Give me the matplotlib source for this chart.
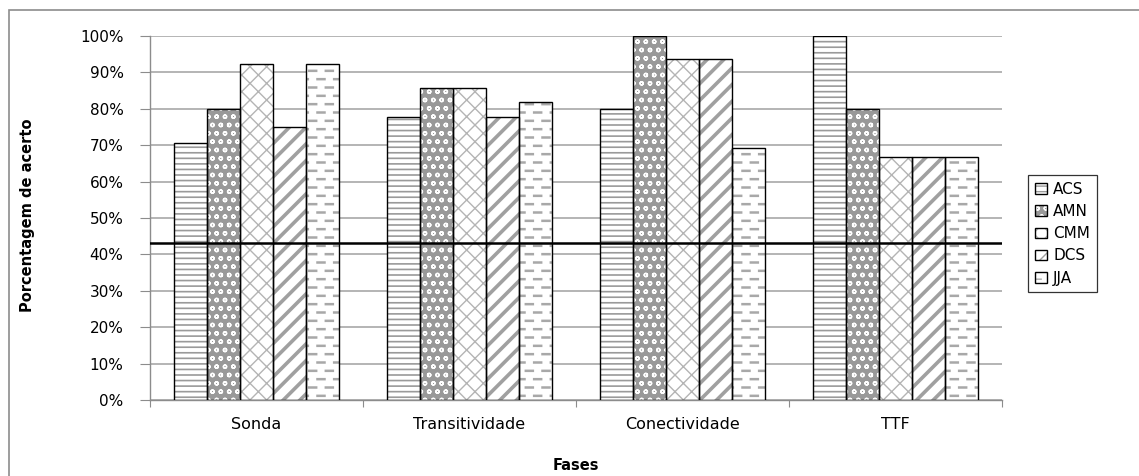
import numpy as np
import matplotlib
matplotlib.use("Agg")
import matplotlib.pyplot as plt
import matplotlib.hatch as mhatch
from matplotlib.path import Path
from matplotlib.patches import Rectangle

fases = ["Sonda", "Transitividade", "Conectividade", "TTF"]
pessoas = ["ACS", "AMN", "CMM", "DCS", "JJA"]
acs = [70.6, 77.8, 80.0, 100.0]
amn = [80.0, 85.7, 100.0, 80.0]
cmm = [92.3, 85.7, 93.8, 66.7]
dcs = [75.0, 77.8, 93.8, 66.7]
jja = [92.3, 81.8, 69.2, 66.7]
limiar = 43.0


# the '*' hatch is replaced by rows of short horizontal dashes (staggered)
class DashHatch(mhatch.HatchPatternBase):
    def __init__(self, hatch, density):
        self.cols = int(hatch.count('*') * density)
        self.rows = self.cols * 2
        self.num_vertices = self.rows * self.cols * 2

    def set_vertices_and_codes(self, vertices, codes):
        k = 0
        for r in range(self.rows):
            y = (r + 0.5) / self.rows
            shift = 0.5 if r % 2 else 0.0
            for c in range(self.cols):
                x0 = (c + 0.05 + shift) / self.cols
                x1 = x0 + 0.42 / self.cols
                vertices[k] = (x0, y)
                vertices[k + 1] = (x1, y)
                codes[k] = Path.MOVETO
                codes[k + 1] = Path.LINETO
                k += 2


mhatch._hatch_types[mhatch._hatch_types.index(mhatch.Stars)] = DashHatch

# face, hatch colour, hatch pattern, hatch width
estilos = [
    ("white", "#9a9a9a", "---", 1.2),
    ("#999999", "white", "oo", 1.0),
    ("white", "#b4b4b4", "xx", 1.0),
    ("white", "#a0a0a0", "//", 2.6),
    ("white", "#a8a8a8", "*", 1.8),
]

fig = plt.figure(figsize=(11.39, 4.76), dpi=100)
ax = fig.add_axes([150 / 1139, 1 - 400 / 476, 852 / 1139, 364 / 476])

x = np.arange(len(fases))
largura = 0.154
series = [acs, amn, cmm, dcs, jja]
handles = []
for i, (vals, nome, (face, cor, hatch, lw)) in enumerate(zip(series, pessoas, estilos)):
    pos = x + (i - 2) * largura
    with plt.rc_context({"hatch.linewidth": lw}):
        barras = ax.bar(pos, vals, largura, color=face, edgecolor=cor,
                        hatch=hatch, linewidth=0, zorder=2)
    for b in barras:
        if hasattr(b, "set_hatch_linewidth"):
            b.set_hatch_linewidth(lw)
    contorno = ax.bar(pos, vals, largura, fill=False, edgecolor="black",
                      linewidth=1.0, zorder=3)
    handles.append((barras, contorno))

ax.axhline(limiar, color="black", linewidth=1.8, zorder=4)

ax.set_xlim(-0.5, len(fases) - 0.5)
ax.set_ylim(0, 100)
ax.set_yticks(np.arange(0, 101, 10))
ax.set_yticklabels([f"{v}%" for v in range(0, 101, 10)])
ax.yaxis.grid(True, color="#a8a8a8", linewidth=1.2, zorder=0)
ax.set_axisbelow(True)

# category boundaries as major ticks, names on minor ticks
ax.set_xticks(np.arange(-0.5, len(fases), 1.0))
ax.set_xticklabels([])
ax.set_xticks(x, minor=True)
ax.set_xticklabels(fases, minor=True)
ax.tick_params(axis="x", which="major", length=5, color="#8c8c8c")
ax.tick_params(axis="x", which="minor", length=0, pad=12, labelsize=11.5)
ax.tick_params(axis="y", length=7, color="#8c8c8c", pad=12, labelsize=11)

for s in ["top", "right"]:
    ax.spines[s].set_visible(False)
for s in ["left", "bottom"]:
    ax.spines[s].set_color("#8c8c8c")
    ax.spines[s].set_linewidth(1.0)

leg = ax.legend(handles=handles, labels=pessoas, loc="upper left",
                bbox_to_anchor=(1028 / 1139, 1 - 175 / 476),
                bbox_transform=fig.transFigure, borderaxespad=0,
                fontsize=11, frameon=True, fancybox=False,
                handlelength=0.8, handleheight=0.7, handletextpad=0.4,
                labelspacing=0.47, borderpad=0.45)
leg.get_frame().set_edgecolor("black")
leg.get_frame().set_linewidth(0.9)

fig.text(576 / 1139, 1 - 465 / 476, "Fases", ha="center", va="center",
         fontsize=10.5, fontweight="bold")
fig.text(28 / 1139, 1 - 215 / 476, "Porcentagem de acerto", rotation=90,
         ha="center", va="center", fontsize=10.5, fontweight="bold")

fig.add_artist(Rectangle((9 / 1139, -0.1), 1.2, 1.1 - 10 / 476,
                         transform=fig.transFigure, fill=False,
                         edgecolor="#8c8c8c", linewidth=1.2))

fig.savefig("out.png", dpi=100)
